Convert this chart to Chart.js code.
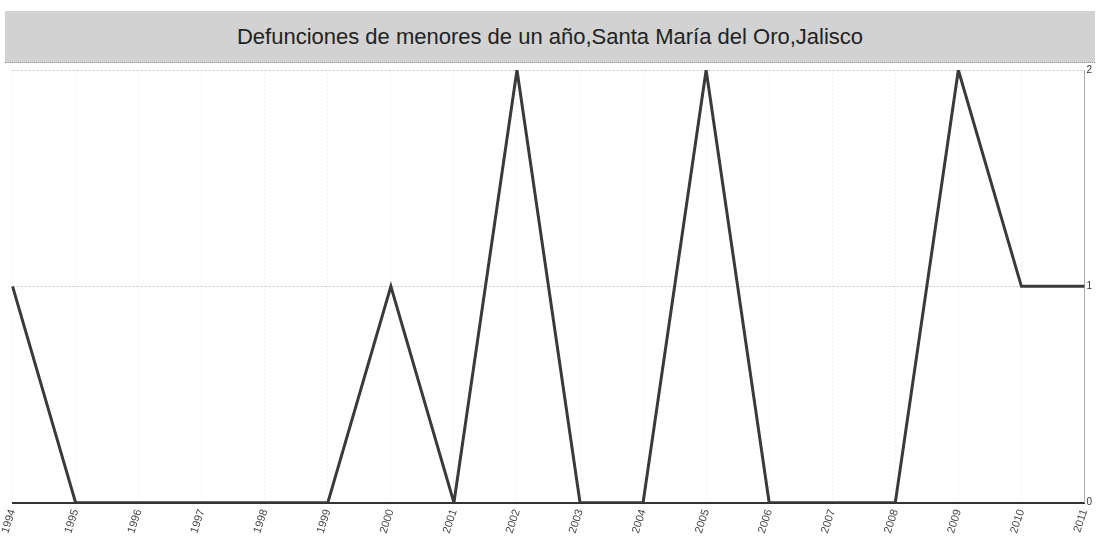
<!DOCTYPE html>
<html>
<head>
<meta charset="utf-8">
<script src="https://cdn.jsdelivr.net/npm/chart.js@4.4.1/dist/chart.umd.min.js"></script>
<style>
  html, body { margin: 0; padding: 0; background: #fff; }
  #wrap { position: relative; width: 1102px; height: 550px; overflow: hidden; }
  #titleBar {
    position: absolute; left: 5px; top: 11px; width: 1090px; height: 51px;
    background: #d2d2d2; border-bottom: 1px dotted #999;
    font-family: "Liberation Sans", Arial, sans-serif; font-size: 22px; color: #222;
    display: flex; align-items: center; justify-content: center;
  }
  canvas { position: absolute; left: 0; top: 0; }
</style>
</head>
<body>
<div id="wrap">
  <canvas id="chart" width="1102" height="550"></canvas>
  <div id="titleBar">Defunciones de menores de un año,Santa María del Oro,Jalisco</div>
</div>
<script>
// Años y defunciones
const YEARS = ['1994','1995','1996','1997','1998','1999','2000','2001','2002',
               '2003','2004','2005','2006','2007','2008','2009','2010','2011'];
const DEATHS = [1, 0, 0, 0, 0, 0, 1, 0, 2, 0, 0, 2, 0, 0, 0, 2, 1, 1];
const Y_TICKS = [0, 1, 2];

const FONT = "'Liberation Sans', Arial, sans-serif";
Chart.defaults.font.family = FONT;
Chart.defaults.color = '#333';

new Chart(document.getElementById('chart'), {
  type: 'line',
  data: {
    labels: YEARS,
    datasets: [{
      label: 'Defunciones',
      data: DEATHS,
      borderColor: '#3a3a3a',
      borderWidth: 3,
      pointRadius: 0,
      tension: 0,
      fill: false,
    }],
  },
  options: {
    responsive: false, animation: false,
    layout: { padding: { top: 70, left: 8, right: -5, bottom: 10 } },
    plugins: { legend: { display: false }, tooltip: { enabled: false } },
    scales: {
      x: {
        offset: false,
        grid: { color: '#e2e2e2', drawTicks: false },
        border: { display: true, color: '#333', width: 2, dash: [1, 3] },
        ticks: { font: { size: 11 }, color: '#444', minRotation: 72, maxRotation: 72, padding: 5, autoSkip: false },
      },
      y: {
        position: 'right', min: 0, max: 2,
        afterBuildTicks: axis => { axis.ticks = Y_TICKS.map(v => ({ value: v })); },
        grid: { color: '#c4c4c4', drawTicks: false },
        border: { display: true, color: '#aaa', dash: [2, 2] },
        ticks: { font: { size: 10 }, color: '#333', padding: 2 },
      },
    },
  },
});
</script>
</body>
</html>
